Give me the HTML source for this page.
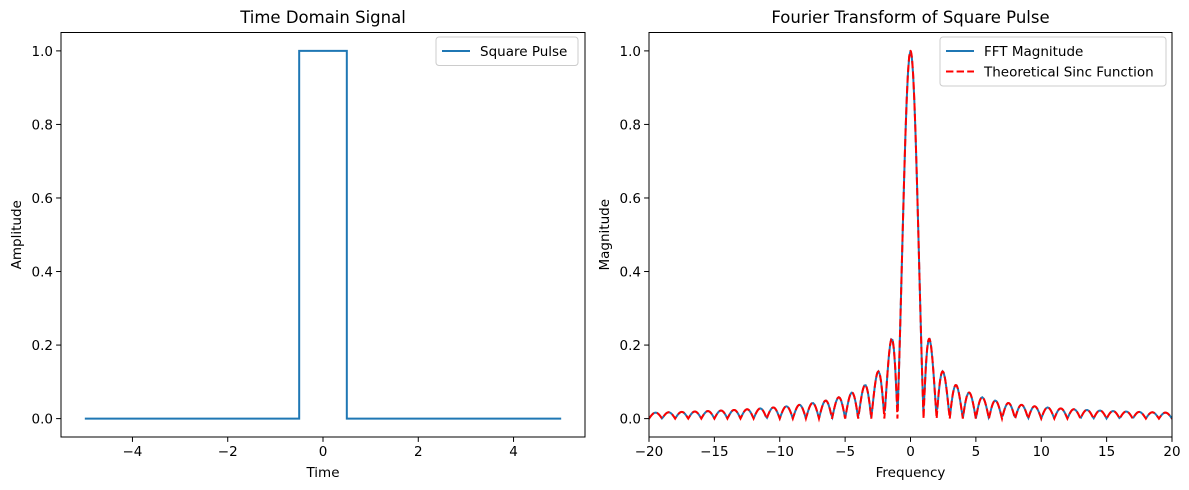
<!DOCTYPE html>
<html><head><meta charset="utf-8"><style>
html,body{margin:0;padding:0;background:#fff;}
svg{display:block;font-family:"DejaVu Sans","Liberation Sans",sans-serif;}
</style></head><body>
<svg id="fig" width="1189" height="490" viewBox="0 0 1189 490" xmlns="http://www.w3.org/2000/svg">
<rect width="1189" height="490" fill="#fff"/>
<g id="left"></g>
<g id="right"></g>
</svg>
<script>
// Left chart data
const pulseT = [-5, -0.5, -0.5, 0.5, 0.5, 5];
const pulseA = [0, 0, 1, 1, 0, 0];
const leftXTicks = [-4, -2, 0, 2, 4];
const yTicks = [0.0, 0.2, 0.4, 0.6, 0.8, 1.0];
// Right chart data
const freqRange = [-20, 20];
const freqTicks = [-20, -15, -10, -5, 0, 5, 10, 15, 20];
const pulseWidth = [1];

const NS = "http://www.w3.org/2000/svg";
function mk(tag, attrs, parent, text) {
  const e = document.createElementNS(NS, tag);
  for (const k in attrs) e.setAttribute(k, attrs[k]);
  if (text !== undefined) e.textContent = text;
  parent.appendChild(e);
  return e;
}
function fmtTick(v) { return v < 0 ? "\u2212" + Math.abs(v) : String(v); }

function panel(g, x0, x1, xmin, xmax, title, xlabel, ylabel) {
  const y0 = 32.5, y1 = 437, ymin = -0.05, ymax = 1.05;
  const X = v => x0 + (v - xmin) / (xmax - xmin) * (x1 - x0);
  const Y = v => y1 - (v - ymin) / (ymax - ymin) * (y1 - y0);
  return {X, Y, y0, y1, draw(xt, xtLabels) {
    const t = mk("text", {x: (x0 + x1) / 2, y: 23, "text-anchor": "middle", "font-size": 16.5, fill: "#000"}, g, title);
    
    
    for (const v of xt) {
      const tk = mk("line", {x1: X(v), x2: X(v), y1: y1, y2: y1 + 4.9, stroke: "#000", "stroke-width": 1}, g);
      
      
      const lb = mk("text", {x: X(v), y: y1 + 19, "text-anchor": "middle", "font-size": 13.5, fill: "#000"}, g, xtLabels ? xtLabels(v) : fmtTick(v));
      
      
    }
    for (const v of yTicks) {
      const tk = mk("line", {x1: x0 - 4.9, x2: x0, y1: Y(v), y2: Y(v), stroke: "#000", "stroke-width": 1}, g);
      
      
      const lb = mk("text", {x: x0 - 8, y: Y(v) + 5, "text-anchor": "end", "font-size": 13.5, fill: "#000"}, g, v.toFixed(1));
      
      
    }
    const xl = mk("text", {x: (x0 + x1) / 2, y: 477, "text-anchor": "middle", "font-size": 13.5, fill: "#000"}, g, xlabel);
    
    
    const yl = mk("text", {x: 0, y: 0, "text-anchor": "middle", "font-size": 13.5, fill: "#000", transform: `translate(${x0 - 40},${(y0 + y1) / 2}) rotate(-90)`}, g, ylabel);
    
    
    const fr = mk("rect", {x: x0, y: y0, width: x1 - x0, height: y1 - y0, fill: "none", stroke: "#000", "stroke-width": 1}, g);
    
    
  }};
}

function legend(g, x, y, w, entries) {
  const h = 8 + entries.length * 20.5;
  const box = mk("rect", {x, y, width: w, height: h, rx: 3, fill: "#fff", "fill-opacity": 0.8, stroke: "#ccc", "stroke-width": 1}, g);
  
  
  entries.forEach((e, i) => {
    const cy = y + 14 + i * 20.5;
    const ln = mk("line", {x1: x + 6, x2: x + 34, y1: cy, y2: cy, stroke: e.color, "stroke-width": 2, "stroke-dasharray": e.dash || "none"}, g);
    
    
    const tx = mk("text", {x: x + 44, y: cy + 4.8, "font-size": 13.5, fill: "#000"}, g, e.label);
    
    
  });
}

// Left panel
const gl = document.getElementById("left");
const L = panel(gl, 61, 585, -5.5, 5.5, "Time Domain Signal", "Time", "Amplitude");
const lp = mk("polyline", {points: pulseT.map((t, i) => L.X(t) + "," + L.Y(pulseA[i])).join(" "), fill: "none", stroke: "#1f77b4", "stroke-width": 2}, gl);


L.draw(leftXTicks);
legend(gl, 436, 37, 142, [{label: "Square Pulse", color: "#1f77b4"}]);

// Right panel
const gr = document.getElementById("right");
const R = panel(gr, 649, 1172, freqRange[0], freqRange[1], "Fourier Transform of Square Pulse", "Frequency", "Magnitude");
const clip = mk("clipPath", {id: "rc"}, gr);
mk("rect", {x: 649, y: 32.5, width: 523, height: 404.5}, clip);
function sinc(f) { const a = Math.PI * f * pulseWidth[0]; return Math.abs(a) < 1e-9 ? 1 : Math.abs(Math.sin(a) / a); }
const fftPts = [], thPts = [];
const df = 0.098;
for (let f = Math.ceil(freqRange[0] / df) * df - df; f <= freqRange[1] + df; f += df) fftPts.push(R.X(f).toFixed(2) + "," + R.Y(sinc(f)).toFixed(2));
for (let i = 0; i <= 4000; i++) { const f = freqRange[0] + i * (freqRange[1] - freqRange[0]) / 4000; thPts.push(R.X(f).toFixed(2) + "," + R.Y(sinc(f)).toFixed(2)); }
const fl = mk("polyline", {points: fftPts.join(" "), fill: "none", stroke: "#1f77b4", "stroke-width": 2, "clip-path": "url(#rc)"}, gr);


const tl = mk("polyline", {points: thPts.join(" "), fill: "none", stroke: "#ff0000", "stroke-width": 2, "stroke-dasharray": "7.4,3.2", "clip-path": "url(#rc)"}, gr);


R.draw(freqTicks);
legend(gr, 940, 37, 226, [{label: "FFT Magnitude", color: "#1f77b4"}, {label: "Theoretical Sinc Function", color: "#ff0000", dash: "7.4,3.2"}]);
</script>
</body></html>
